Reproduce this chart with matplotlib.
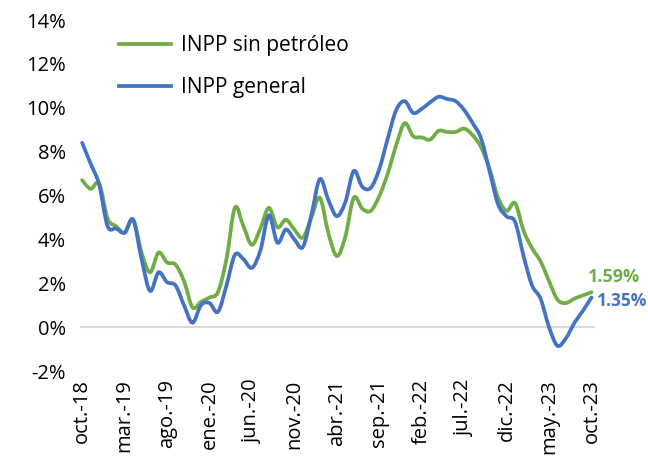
import matplotlib
matplotlib.use('Agg')
import matplotlib.pyplot as plt
from matplotlib.path import Path
from matplotlib.patches import PathPatch
from matplotlib.lines import Line2D
import numpy as np

plt.rcParams['font.family'] = ['Open Sans', 'DejaVu Sans']

# Annual change, %, monthly from oct-2018 to oct-2023
sin_petroleo = [
    6.7, 6.3, 6.55, 4.95, 4.6, 4.3, 4.9, 3.4, 2.5, 3.4,
    2.95, 2.85, 2.1, 0.9, 1.15, 1.35, 1.6, 3.1, 5.45, 4.6,
    3.75, 4.5, 5.44, 4.55, 4.9, 4.45, 4.08, 5.0, 5.9, 4.3,
    3.24, 4.12, 5.9, 5.4, 5.3, 5.97, 7.0, 8.3, 9.3, 8.7,
    8.65, 8.55, 8.95, 8.9, 8.9, 9.05, 8.75, 8.2, 7.2, 5.9,
    5.3, 5.65, 4.4, 3.6, 3.0, 2.1, 1.25, 1.1, 1.3, 1.45,
    1.59,
]
general = [
    8.4, 7.45, 6.5, 4.6, 4.5, 4.3, 4.9, 3.1, 1.65, 2.5,
    2.05, 1.9, 1.0, 0.2, 1.0, 1.1, 0.7, 1.9, 3.3, 3.1,
    2.7, 3.5, 5.1, 3.85, 4.45, 4.0, 3.65, 5.1, 6.75, 5.8,
    5.06, 5.7, 7.12, 6.4, 6.35, 7.2, 8.6, 9.9, 10.3, 9.76,
    9.95, 10.25, 10.5, 10.4, 10.3, 9.9, 9.3, 8.6, 7.1, 5.6,
    5.05, 4.8, 3.24, 1.9, 1.3, 0.0, -0.85, -0.5, 0.2, 0.75,
    1.35,
]
tick_labels = ['oct.-18', 'mar.-19', 'ago.-19', 'ene.-20', 'jun.-20', 'nov.-20',
               'abr.-21', 'sep.-21', 'feb.-22', 'jul.-22', 'dic.-22', 'may.-23',
               'oct.-23']
series_names = ['INPP sin petróleo', 'INPP general']
colors = ['#70AD47', '#4472C4']


def smooth_path(y):
    """Bezier path through the points, like Excel's smoothed line."""
    pts = np.column_stack([np.arange(len(y)), y]).astype(float)
    verts = [pts[0]]
    codes = [Path.MOVETO]
    n = len(pts)
    for i in range(n - 1):
        p0 = pts[i - 1] if i > 0 else pts[i]
        p1 = pts[i]
        p2 = pts[i + 1]
        p3 = pts[i + 2] if i + 2 < n else pts[i + 1]
        c1 = p1 + (p2 - p0) / 6.0
        c2 = p2 - (p3 - p1) / 6.0
        verts += [c1, c2, p2]
        codes += [Path.CURVE4] * 3
    return Path(verts, codes)


fig = plt.figure(figsize=(6.48, 4.70), dpi=100)
ax = fig.add_axes([0.1235, 0.2106, 0.7945, 0.7468])

# zero line
ax.axhline(0, color='#D9D9D9', lw=1.5, zorder=1)

for values, color in zip([sin_petroleo, general], colors):
    patch = PathPatch(smooth_path(values), facecolor='none', edgecolor=color,
                      lw=2.7, capstyle='round', joinstyle='round', zorder=3)
    ax.add_patch(patch)

ax.set_xlim(-0.25, 60.4)
ax.set_ylim(-2, 14)
ax.set_yticks(range(-2, 15, 2))
ax.set_yticklabels([f'{v}%' for v in range(-2, 15, 2)], fontsize=14.5)
ax.set_xticks(range(0, 61, 5))
ax.set_xticklabels(tick_labels, rotation=90, fontsize=14.5)
ax.tick_params(length=0, pad=10)
ax.tick_params(axis='x', pad=6)
for s in ax.spines.values():
    s.set_visible(False)

# end-point labels
ax.text(59.6, sin_petroleo[-1] + 0.3, f'{sin_petroleo[-1]:.2f}%', color=colors[0],
        fontsize=13, fontweight='bold', ha='left', va='bottom')
ax.text(60.7, general[-1] - 0.15, f'{general[-1]:.2f}%', color=colors[1],
        fontsize=12.5, fontweight='bold', ha='left', va='center', clip_on=False)

handles = [Line2D([], [], color=c, lw=2.7) for c in colors]
ax.legend(handles, series_names, loc='upper left', bbox_to_anchor=(0.04, 1.01),
          frameon=False, fontsize=15, handlelength=2.5, handletextpad=0.45,
          labelspacing=1.0)

fig.savefig('out.png', dpi=100)
